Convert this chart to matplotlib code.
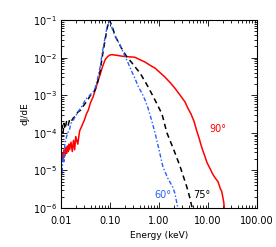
import numpy as np
import matplotlib
matplotlib.use("Agg")
import matplotlib.pyplot as plt
from matplotlib.ticker import LogLocator, FixedLocator, FixedFormatter, NullFormatter

# 90 deg (red, solid)
e90 = [0.010,0.0105,0.011,0.0115,0.012,0.0125,0.013,0.0135,0.014,0.0145,0.015,0.016,0.017,0.018,0.019,0.020,
       0.022,0.024,0.026,0.028,0.030,0.033,0.036,0.040,0.045,0.050,0.056,0.063,0.070,0.080,0.090,0.10,0.11,0.12,
       0.14,0.17,0.20,0.25,0.32,0.40,0.52,0.65,0.83,1.05,1.33,1.7,2.1,2.7,3.4,3.9,4.5,5.2,5.9,6.6,7.5,8.5,9.6,
       11,12.5,14,16,18,19,20,21,21.5,22]
l90 = [-4.78,-4.55,-4.7,-4.45,-4.62,-4.40,-4.55,-4.35,-4.5,-4.3,-4.45,-4.25,-4.5,-4.2,-4.45,-4.1,
       -4.3,-3.95,-3.85,-3.75,-3.66,-3.5,-3.4,-3.2,-3.05,-2.86,-2.65,-2.45,-2.25,-2.05,-1.97,-1.93,-1.92,-1.93,
       -1.94,-1.96,-1.97,-1.98,-1.99,-2.05,-2.12,-2.2,-2.28,-2.4,-2.52,-2.67,-2.81,-3.0,-3.18,-3.35,-3.5,-3.7,-3.95,
       -4.15,-4.4,-4.6,-4.8,-4.95,-5.1,-5.2,-5.3,-5.5,-5.55,-5.7,-5.85,-6.0,-6.2]

# 75 deg (black, dashed)
e75 = [0.010,0.0105,0.011,0.0115,0.012,0.013,0.014,0.015,0.016,0.018,0.020,0.022,0.025,0.028,0.032,0.036,0.040,
       0.045,0.050,0.056,0.063,0.070,0.079,0.088,0.097,0.105,0.113,0.13,0.17,0.22,0.28,0.34,0.41,0.5,0.6,0.83,
       1.15,1.45,2.0,2.7,3.7,4.2,4.7,4.8]
l75 = [-4.1,-3.8,-4.0,-3.75,-3.9,-3.7,-3.8,-3.65,-3.7,-3.6,-3.55,-3.45,-3.4,-3.3,-3.2,-3.1,-3.0,
       -2.95,-2.85,-2.65,-2.35,-1.95,-1.55,-1.2,-1.0,-1.1,-1.21,-1.45,-1.74,-1.98,-2.14,-2.28,-2.41,-2.6,-2.78,-3.13,
       -3.5,-4.0,-4.45,-4.9,-5.44,-5.7,-5.97,-6.2]

# 60 deg (blue, dash-dot)
e60 = [0.010,0.0105,0.011,0.0115,0.012,0.013,0.014,0.015,0.016,0.018,0.020,0.022,0.025,0.028,0.032,0.036,0.040,
       0.045,0.050,0.056,0.063,0.070,0.079,0.088,0.096,0.105,0.115,0.13,0.16,0.20,0.23,0.28,0.32,0.38,0.45,0.52,
       0.6,0.7,0.83,1.0,1.2,1.5,1.9,2.1,2.4,2.5]
l60 = [-4.9,-5.1,-4.6,-4.8,-4.3,-4.1,-3.98,-3.9,-3.75,-3.65,-3.55,-3.45,-3.35,-3.25,-3.1,-3.05,-2.98,
       -2.92,-2.8,-2.55,-2.25,-1.85,-1.48,-1.15,-1.0,-1.12,-1.3,-1.45,-1.66,-1.95,-2.12,-2.38,-2.54,-2.78,-2.95,-3.13,
       -3.35,-3.65,-4.0,-4.45,-4.9,-5.2,-5.44,-5.6,-5.97,-6.2]

xticks = [0.01, 0.1, 1, 10, 100]
xticklabels = ["0.01", "0.10", "1.00", "10.00", "100.00"]

fig = plt.figure(figsize=(2.76, 2.47), dpi=100)
ax = fig.add_axes([61/276, 1-208/247, 196/276, 188/247])

ax.plot(e90, 10**np.array(l90), color="#ff0000", lw=1.1, ls="-")
ax.plot(e75, 10**np.array(l75), color="black", lw=1.1, ls=(0, (3.5, 2.5)))
ax.plot(e60, 10**np.array(l60), color="#2a5cff", lw=1.0, ls=(0, (3, 1.5, 1, 1.5)))

ax.set_xscale("log")
ax.set_yscale("log")
ax.set_xlim(0.01, 100)
ax.set_ylim(1e-6, 1e-1)

ax.xaxis.set_major_locator(FixedLocator(xticks))
ax.xaxis.set_major_formatter(FixedFormatter(xticklabels))
ax.xaxis.set_minor_locator(LogLocator(base=10, subs=np.arange(2, 10)))
ax.xaxis.set_minor_formatter(NullFormatter())
ax.yaxis.set_major_locator(LogLocator(base=10, numticks=10))
ax.yaxis.set_minor_locator(LogLocator(base=10, subs=np.arange(2, 10), numticks=10))
ax.yaxis.set_minor_formatter(NullFormatter())

ax.tick_params(which="both", direction="in", top=True, right=True, labelsize=7, width=0.6)
ax.tick_params(axis="x", which="both", pad=6)
ax.tick_params(axis="y", which="both", pad=3)
ax.tick_params(which="major", length=4)
ax.tick_params(which="minor", length=2)
for s in ax.spines.values():
    s.set_linewidth(0.8)

ax.set_xlabel("Energy (keV)", fontsize=6.5, labelpad=3)
ax.set_ylabel("dJ/dE", fontsize=6.5, labelpad=2)

ax.text(218, 247 - 129, "90°", transform=None, color="#ff0000", fontsize=7, ha="center", va="center")
ax.text(163, 247 - 195, "60°", transform=None, color="#2a5cff", fontsize=7, ha="center", va="center")
ax.text(202, 247 - 195, "75°", transform=None, color="black", fontsize=7, ha="center", va="center")

fig.savefig("out.png", dpi=100)
